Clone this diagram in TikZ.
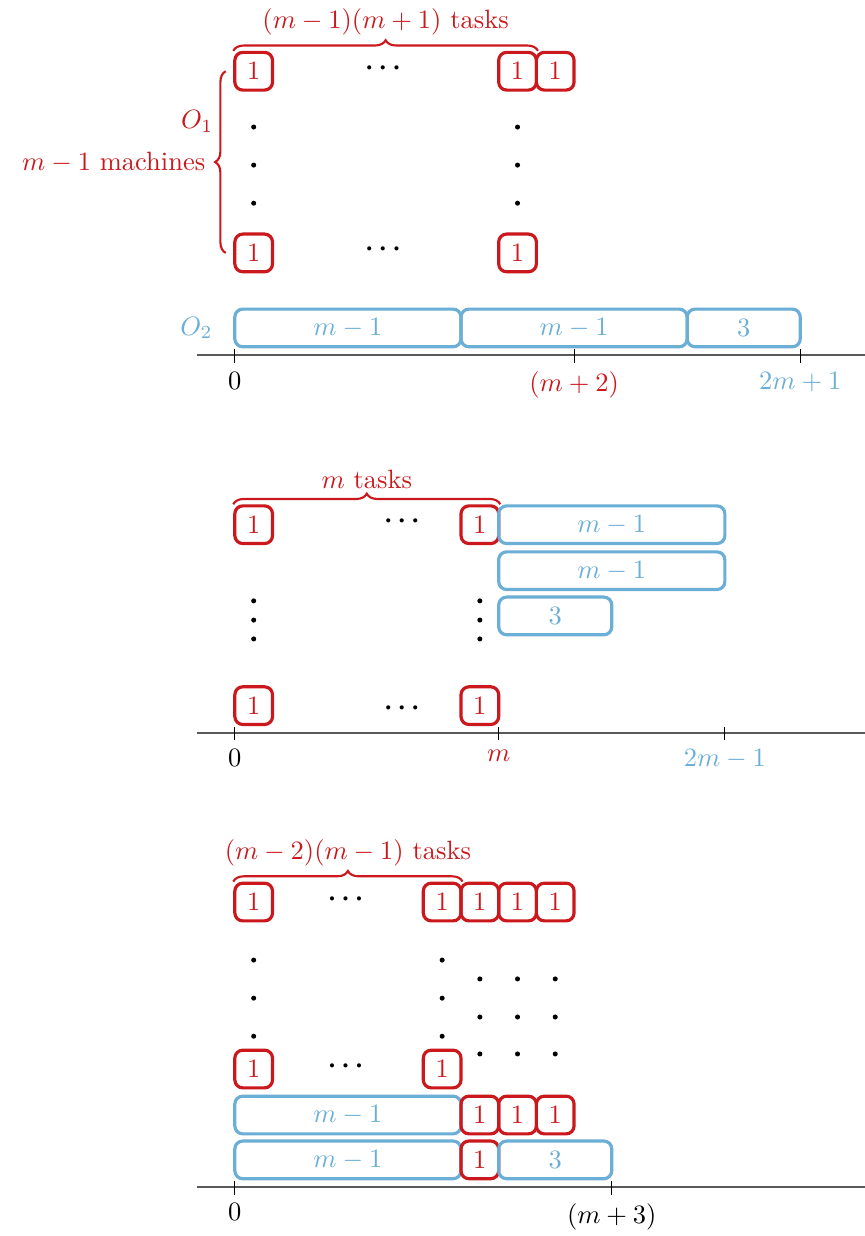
\documentclass[tikz,border=0pt]{standalone}
\usetikzlibrary{decorations.pathreplacing}

\definecolor{taskred}{RGB}{203,24,29}
\definecolor{jobblue}{RGB}{107,174,214}

\tikzset{
  onebox/.style={draw=taskred, text=taskred, line width=1.2pt, rounded corners=3pt,
    minimum width=5mm, minimum height=5mm, inner sep=0pt},
  jobbox/.style={draw=jobblue, text=jobblue, line width=1.2pt, rounded corners=3pt,
    minimum height=5mm, inner sep=0pt},
  hdots/.style={font=\boldmath},
  timeline/.style={black!65, line width=0.7pt},
  tickmark/.style={black, line width=0.4pt},
  taskbrace/.style={taskred, line width=0.8pt, decorate, decoration={brace, amplitude=4pt}},
}

\begin{document}
\begin{tikzpicture}[x=0.5cm, y=0.5cm]
\useasboundingbox (-6.23,-32.79) rectangle (16.71,0);

% first schedule
\begin{scope}[shift={(0,-9.42)}]
\node[onebox] (a1) at (0.5,7.53) {$1$};
\node[hdots] (a2) at (3.93,7.61) {$\cdots$};
\node[onebox] (a3) at (7.5,7.53) {$1$};
\node[onebox] (a4) at (8.5,7.53) {$1$};
\foreach \y in {4.03,5.04,6.05} {
  \fill (0.5,\y) circle (0.95pt);
  \fill (7.5,\y) circle (0.95pt);
}
\node[onebox] (b1) at (0.5,2.71) {$1$};
\node[hdots] (b2) at (3.93,2.81) {$\cdots$};
\node[onebox] (b3) at (7.5,2.71) {$1$};
\node[jobbox, minimum width=30mm] (c1) at (3,0.72) {$m-1$};
\node[jobbox, minimum width=30mm] (c2) at (9,0.72) {$m-1$};
\node[jobbox, minimum width=15mm] (c3) at (13.5,0.72) {$3$};
\node[left=1.5mm, text=jobblue] (o2) at (c1.west) {$O_2$};
\draw[taskbrace] (a1.north west) -- (a3.north east)
  node[midway, above=2pt] (n1) {$(m-1)(m+1)$ tasks};
\draw[taskbrace] ([xshift=-1mm]b1.west) -- ([xshift=-1mm]a1.west)
  node[midway, left=4pt] (n2) {$m-1$ machines};
\node[text=taskred, anchor=south east] (o1) at ([xshift=1mm]n2.north east) {$O_1$};
\draw[timeline] (-1,0) -- (16.71,0);
\draw[tickmark] (0,0.15) -- (0,-0.2) node[below] (x1) {$0$};
\draw[tickmark] (9,0.15) -- (9,-0.2) node[below, text=taskred] (x2) {$(m+2)$};
\draw[tickmark] (15,0.15) -- (15,-0.2) node[below, text=jobblue] (x3) {$2m+1$};
\end{scope}

% second schedule
\begin{scope}[shift={(0,-19.44)}]
\node[onebox] (d1) at (0.5,5.52) {$1$};
\node[hdots] (d2) at (4.43,5.62) {$\cdots$};
\node[onebox] (d3) at (6.5,5.52) {$1$};
\node[jobbox, minimum width=30mm] (e1) at (10,5.52) {$m-1$};
\node[jobbox, minimum width=30mm] (e2) at (10,4.30) {$m-1$};
\node[jobbox, minimum width=15mm] (e3) at (8.5,3.10) {$3$};
\foreach \y in {2.49,2.99,3.50} {
  \fill (0.5,\y) circle (0.95pt);
  \fill (6.5,\y) circle (0.95pt);
}
\node[onebox] (f1) at (0.5,0.72) {$1$};
\node[hdots] (f2) at (4.43,0.64) {$\cdots$};
\node[onebox] (f3) at (6.5,0.72) {$1$};
\draw[taskbrace] (d1.north west) -- (d3.north east)
  node[midway, above=2pt] (n3) {$m$ tasks};
\draw[timeline] (-1,0) -- (16.71,0);
\draw[tickmark] (0,0.15) -- (0,-0.2) node[below] (y1) {$0$};
\draw[tickmark] (7,0.15) -- (7,-0.2) node[below, text=taskred] (y2) {$m$};
\draw[tickmark] (13,0.15) -- (13,-0.2) node[below, text=jobblue] (y3) {$2m-1$};
\end{scope}

% third schedule
\begin{scope}[shift={(0,-31.49)}]
\node[onebox] (g1) at (0.5,7.56) {$1$};
\node[hdots] (g2) at (2.94,7.64) {$\cdots$};
\node[onebox] (g3) at (5.5,7.56) {$1$};
\node[onebox] (g4) at (6.5,7.56) {$1$};
\node[onebox] (g5) at (7.5,7.56) {$1$};
\node[onebox] (g6) at (8.5,7.56) {$1$};
\foreach \y in {4.00,5.01,6.02} {
  \fill (0.5,\y) circle (0.95pt);
  \fill (5.5,\y) circle (0.95pt);
}
\foreach \x in {6.5,7.5,8.5}
  \foreach \y in {3.53,4.51,5.52}
    \fill (\x,\y) circle (0.95pt);
\node[onebox] (h1) at (0.5,3.13) {$1$};
\node[hdots] (h2) at (2.94,3.21) {$\cdots$};
\node[onebox] (h3) at (5.5,3.13) {$1$};
\node[jobbox, minimum width=30mm] (k1) at (3,1.91) {$m-1$};
\node[onebox] (k2) at (6.5,1.91) {$1$};
\node[onebox] (k3) at (7.5,1.91) {$1$};
\node[onebox] (k4) at (8.5,1.91) {$1$};
\node[jobbox, minimum width=30mm] (l1) at (3,0.72) {$m-1$};
\node[onebox] (l2) at (6.5,0.72) {$1$};
\node[jobbox, minimum width=15mm] (l3) at (8.5,0.72) {$3$};
\draw[taskbrace] (g1.north west) -- (g3.north east)
  node[midway, above=2pt] (n4) {$(m-2)(m-1)$ tasks};
\draw[timeline] (-1,0) -- (16.71,0);
\draw[tickmark] (0,0.15) -- (0,-0.2) node[below] (z1) {$0$};
\draw[tickmark] (10,0.15) -- (10,-0.2) node[below] (z2) {$(m+3)$};
\end{scope}
\end{tikzpicture}
\end{document}
